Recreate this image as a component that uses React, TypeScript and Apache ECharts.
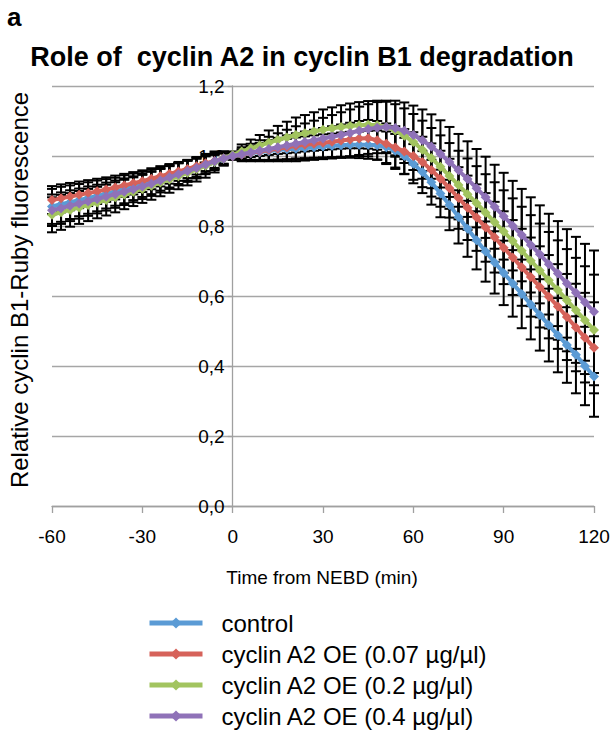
import React, { useEffect, useRef } from "react";
import * as echarts from "echarts";

const TIMES = [-60, -57, -54, -51, -48, -45, -42, -39, -36, -33, -30, -27, -24, -21, -18, -15, -12, -9, -6, -3, 0, 3, 6, 9, 12, 15, 18, 21, 24, 27, 30, 33, 36, 39, 42, 45, 48, 51, 54, 57, 60, 63, 66, 69, 72, 75, 78, 81, 84, 87, 90, 93, 96, 99, 102, 105, 108, 111, 114, 117, 120];

const X_TICKS = [-60, -30, 0, 30, 60, 90, 120];
const Y_TICKS = [0, 0.2, 0.4, 0.6, 0.8, 1.0, 1.2];

const CONTROL = [0.856, 0.862, 0.868, 0.874, 0.88, 0.886, 0.892, 0.898, 0.905, 0.912, 0.919, 0.926, 0.934, 0.942, 0.95, 0.958, 0.966, 0.975, 0.983, 0.992, 1.0, 1.004, 1.008, 1.011, 1.014, 1.017, 1.019, 1.021, 1.023, 1.025, 1.027, 1.029, 1.031, 1.032, 1.032, 1.032, 1.031, 1.025, 1.015, 1.0, 0.978, 0.954, 0.925, 0.893, 0.86, 0.826, 0.792, 0.759, 0.727, 0.696, 0.666, 0.636, 0.606, 0.576, 0.546, 0.517, 0.488, 0.46, 0.432, 0.4, 0.37];
const OE_007 = [0.874, 0.879, 0.884, 0.889, 0.894, 0.899, 0.904, 0.91, 0.916, 0.922, 0.928, 0.935, 0.942, 0.949, 0.956, 0.963, 0.971, 0.979, 0.986, 0.993, 1.0, 1.004, 1.009, 1.013, 1.017, 1.021, 1.025, 1.029, 1.032, 1.035, 1.038, 1.041, 1.044, 1.047, 1.05, 1.051, 1.045, 1.035, 1.024, 1.013, 1.0, 0.983, 0.96, 0.935, 0.908, 0.88, 0.852, 0.824, 0.796, 0.768, 0.738, 0.71, 0.682, 0.654, 0.626, 0.598, 0.57, 0.54, 0.51, 0.481, 0.452];
const OE_02 = [0.832, 0.839, 0.846, 0.853, 0.86, 0.867, 0.874, 0.882, 0.89, 0.898, 0.906, 0.915, 0.924, 0.933, 0.942, 0.952, 0.962, 0.972, 0.983, 0.993, 1.003, 1.013, 1.022, 1.03, 1.038, 1.046, 1.053, 1.06, 1.065, 1.07, 1.075, 1.079, 1.083, 1.086, 1.088, 1.089, 1.088, 1.083, 1.073, 1.058, 1.04, 1.018, 0.994, 0.969, 0.943, 0.917, 0.891, 0.865, 0.838, 0.811, 0.784, 0.757, 0.729, 0.701, 0.673, 0.645, 0.617, 0.588, 0.559, 0.531, 0.503];
const OE_04 = [0.845, 0.851, 0.858, 0.864, 0.871, 0.877, 0.884, 0.891, 0.898, 0.905, 0.913, 0.921, 0.93, 0.939, 0.948, 0.957, 0.966, 0.976, 0.985, 0.993, 1.0, 1.005, 1.01, 1.015, 1.02, 1.025, 1.03, 1.035, 1.04, 1.045, 1.05, 1.055, 1.06, 1.066, 1.072, 1.077, 1.081, 1.083, 1.08, 1.072, 1.06, 1.045, 1.027, 1.006, 0.983, 0.959, 0.934, 0.908, 0.882, 0.855, 0.828, 0.801, 0.774, 0.746, 0.719, 0.691, 0.664, 0.636, 0.609, 0.582, 0.555];

const ERR_CONTROL = [0.05, 0.05, 0.048, 0.046, 0.045, 0.044, 0.042, 0.04, 0.04, 0.038, 0.036, 0.035, 0.033, 0.032, 0.03, 0.028, 0.026, 0.024, 0.02, 0.015, 0.01, 0.015, 0.02, 0.025, 0.028, 0.03, 0.03, 0.032, 0.033, 0.034, 0.035, 0.035, 0.036, 0.037, 0.038, 0.04, 0.042, 0.045, 0.048, 0.052, 0.056, 0.06, 0.064, 0.068, 0.072, 0.076, 0.08, 0.083, 0.086, 0.089, 0.092, 0.095, 0.098, 0.1, 0.102, 0.104, 0.106, 0.108, 0.11, 0.112, 0.115];
const ERR_007 = [0.04, 0.04, 0.039, 0.038, 0.037, 0.036, 0.035, 0.034, 0.033, 0.032, 0.031, 0.03, 0.029, 0.028, 0.027, 0.026, 0.024, 0.022, 0.02, 0.015, 0.01, 0.015, 0.02, 0.024, 0.028, 0.031, 0.034, 0.036, 0.038, 0.04, 0.042, 0.044, 0.046, 0.048, 0.05, 0.052, 0.055, 0.058, 0.061, 0.064, 0.068, 0.072, 0.076, 0.08, 0.084, 0.088, 0.092, 0.095, 0.098, 0.101, 0.104, 0.107, 0.11, 0.113, 0.116, 0.119, 0.121, 0.123, 0.125, 0.128, 0.13];
const ERR_02 = [0.05, 0.05, 0.048, 0.047, 0.046, 0.045, 0.044, 0.043, 0.042, 0.041, 0.04, 0.04, 0.039, 0.038, 0.037, 0.036, 0.035, 0.034, 0.03, 0.02, 0.01, 0.02, 0.025, 0.03, 0.035, 0.04, 0.045, 0.05, 0.052, 0.055, 0.058, 0.06, 0.062, 0.064, 0.066, 0.068, 0.07, 0.072, 0.075, 0.078, 0.08, 0.083, 0.086, 0.09, 0.094, 0.098, 0.102, 0.106, 0.11, 0.114, 0.118, 0.122, 0.126, 0.13, 0.134, 0.138, 0.142, 0.146, 0.15, 0.154, 0.158];
const ERR_04 = [0.045, 0.045, 0.044, 0.043, 0.042, 0.041, 0.04, 0.039, 0.038, 0.037, 0.036, 0.035, 0.034, 0.033, 0.032, 0.031, 0.03, 0.028, 0.025, 0.02, 0.01, 0.02, 0.025, 0.03, 0.035, 0.04, 0.045, 0.05, 0.053, 0.056, 0.059, 0.062, 0.065, 0.067, 0.069, 0.071, 0.073, 0.075, 0.078, 0.081, 0.084, 0.088, 0.092, 0.096, 0.1, 0.104, 0.108, 0.112, 0.116, 0.12, 0.124, 0.128, 0.132, 0.136, 0.14, 0.144, 0.15, 0.155, 0.16, 0.167, 0.175];

const SERIES_NAMES = [
  "control",
  "cyclin A2 OE (0.07 \u00b5g/\u00b5l)",
  "cyclin A2 OE (0.2 \u00b5g/\u00b5l)",
  "cyclin A2 OE (0.4 \u00b5g/\u00b5l)",
];
const SERIES_VALUES = [CONTROL, OE_007, OE_02, OE_04];
const SERIES_ERRORS = [ERR_CONTROL, ERR_007, ERR_02, ERR_04];
const COLORS = ["#5B9BD5", "#D6625A", "#A2C45F", "#8F72B8"];

const FONT = "'Liberation Sans', Arial, sans-serif";

const GRID_LEFT = 52;
const GRID_RIGHT = 19;
const GRID_WIDTH = 613 - GRID_LEFT - GRID_RIGHT;

export default function App() {
  const ref = useRef<HTMLDivElement>(null);

  useEffect(() => {
    if (!ref.current) return;
    const chart = echarts.init(ref.current, null, { renderer: "svg" });

    const xMin = X_TICKS[0];
    const xMax = X_TICKS[X_TICKS.length - 1];
    // shift the y axis so that it sits on x = 0
    const yAxisOffset = -((0 - xMin) / (xMax - xMin)) * GRID_WIDTH;

    const errorSeries = SERIES_VALUES.map((vals, si) => ({
      type: "custom",
      name: "err" + si,
      z: 1,
      silent: true,
      data: TIMES.map((t, i) => [t, vals[i] - SERIES_ERRORS[si][i], vals[i] + SERIES_ERRORS[si][i]]),
      renderItem: (params: any, api: any) => {
        const x = api.value(0);
        const lo = api.coord([x, api.value(1)]);
        const hi = api.coord([x, api.value(2)]);
        const cap = 5;
        const style = { stroke: "#000", lineWidth: 2 };
        return {
          type: "group",
          children: [
            { type: "line", shape: { x1: lo[0], y1: lo[1], x2: hi[0], y2: hi[1] }, style },
            { type: "line", shape: { x1: lo[0] - cap, y1: lo[1], x2: lo[0] + cap, y2: lo[1] }, style },
            { type: "line", shape: { x1: hi[0] - cap, y1: hi[1], x2: hi[0] + cap, y2: hi[1] }, style },
          ],
        };
      },
    }));

    const lineSeries = SERIES_VALUES.map((vals, si) => ({
      type: "line",
      name: SERIES_NAMES[si],
      z: 3 + si,
      data: TIMES.map((t, i) => [t, vals[i]]),
      symbol: "diamond",
      symbolSize: 10,
      showSymbol: true,
      itemStyle: { color: COLORS[si] },
      lineStyle: { color: COLORS[si], width: 4 },
    }));

    chart.setOption({
      animation: false,
      color: COLORS,
      grid: { left: GRID_LEFT, right: GRID_RIGHT, top: 86, bottom: 228, containLabel: false },
      xAxis: {
        type: "value",
        min: xMin,
        max: xMax,
        interval: 30,
        axisLine: { show: true, onZero: false, lineStyle: { color: "#A0A0A0", width: 1.3 } },
        axisTick: { show: true, inside: false, length: 7, lineStyle: { color: "#A0A0A0", width: 1.3 } },
        axisLabel: { color: "#000", fontSize: 19, fontFamily: FONT, margin: 21 },
        splitLine: { show: false },
      },
      yAxis: {
        type: "value",
        min: Y_TICKS[0],
        max: Y_TICKS[Y_TICKS.length - 1],
        interval: 0.2,
        position: "left",
        offset: yAxisOffset,
        axisLine: { show: true, onZero: false, lineStyle: { color: "#A0A0A0", width: 1.3 } },
        axisTick: { show: true, inside: false, length: 5, lineStyle: { color: "#A0A0A0", width: 1.3 } },
        axisLabel: {
          color: "#000",
          fontSize: 19,
          fontFamily: FONT,
          margin: 8,
          formatter: (v: number) => v.toFixed(1).replace(".", ","),
        },
        splitLine: { show: true, lineStyle: { color: "#A6A6A6", width: 1.3 } },
      },
      legend: {
        data: SERIES_NAMES,
        orient: "vertical",
        left: 147,
        top: 608,
        padding: 0,
        itemWidth: 53,
        itemHeight: 14,
        itemGap: 1,
        lineStyle: { width: 5 },
        textStyle: { color: "#000", fontSize: 24, lineHeight: 30, fontFamily: FONT, padding: [0, 0, 0, 14] },
        selectedMode: false,
      },
      graphic: [
        {
          type: "text",
          left: 7,
          top: 4,
          style: { text: "a", font: "bold 26px " + FONT, fill: "#000" },
        },
        {
          type: "text",
          x: 302,
          y: 57,
          style: {
            text: "Role of  cyclin A2 in cyclin B1 degradation",
            font: "bold 27px " + FONT,
            fill: "#000",
            textAlign: "center",
            textVerticalAlign: "middle",
          },
        },
        {
          type: "text",
          x: 19,
          y: 290,
          rotation: Math.PI / 2,
          style: {
            text: "Relative cyclin B1-Ruby fluorescence",
            font: "24px " + FONT,
            fill: "#000",
            textAlign: "center",
            textVerticalAlign: "middle",
          },
        },
        {
          type: "text",
          x: 322,
          y: 577,
          style: {
            text: "Time from NEBD (min)",
            font: "19px " + FONT,
            fill: "#000",
            textAlign: "center",
            textVerticalAlign: "middle",
          },
        },
      ],
      series: [...errorSeries, ...lineSeries],
    });

    return () => chart.dispose();
  }, []);

  return (
    <div
      ref={ref}
      style={{ position: "fixed", left: 0, top: 0, width: 613, height: 734, background: "#fff" }}
    />
  );
}
